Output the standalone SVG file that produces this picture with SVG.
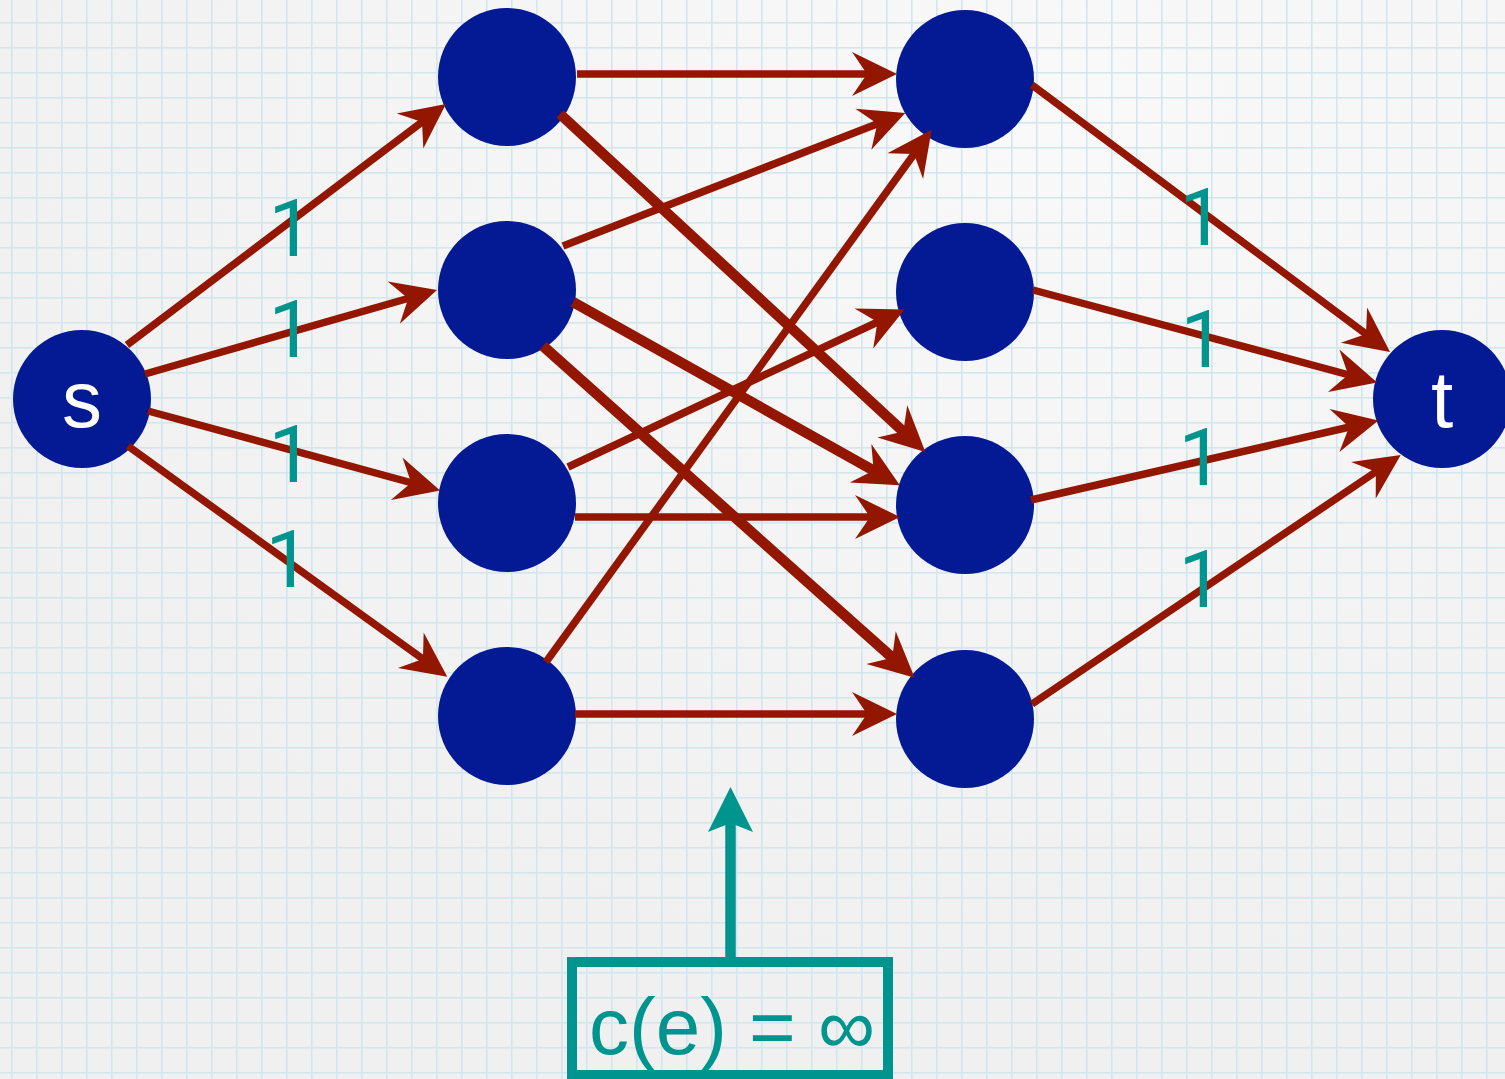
<svg xmlns="http://www.w3.org/2000/svg" width="1505" height="1079" viewBox="0 0 1505 1079">
<style>
.node{fill:#031a94}
.lbl{font-size:80px;fill:#ffffff;text-anchor:middle}
.w{fill:#00948f;font-size:80px;text-anchor:middle}
.e{stroke:#931600;stroke-width:7.5;fill:none;marker-end:url(#ah)}
.thick{stroke-width:10.5}
.gl{fill:#d2e6ee}
</style>
<defs>
<pattern id="grid" x="11" y="22" width="25" height="25" patternUnits="userSpaceOnUse">
<rect x="0" y="0" width="1.6" height="25" class="gl"/>
<rect x="0" y="0" width="25" height="1.6" class="gl"/>
</pattern>
<radialGradient id="glow" cx="0.7" cy="0.1" r="0.8">
<stop offset="0" stop-color="#f9f9f9"/>
<stop offset="1" stop-color="#f0f0f0"/>
</radialGradient>
<marker id="ah" markerUnits="userSpaceOnUse" viewBox="-55 -30 60 60" markerWidth="60" markerHeight="60" refX="-25" refY="0" orient="auto" overflow="visible">
<path d="M0,0 L-45,-22 L-30,0 L-45,22 Z" fill="#931600"/>
</marker>
</defs>
<rect width="1505" height="1079" fill="url(#glow)"/>
<rect width="1505" height="1079" fill="url(#grid)"/>
<g id="nodes" font-family="Liberation Sans, Arial, Helvetica, sans-serif">
<g id="s"><circle class="node" cx="82" cy="399" r="69"/><text class="lbl" x="82" y="427">s</text></g>
<g id="a1"><circle class="node" cx="507" cy="77" r="69"/></g>
<g id="a2"><circle class="node" cx="507" cy="290" r="69"/></g>
<g id="a3"><circle class="node" cx="507" cy="503" r="69"/></g>
<g id="a4"><circle class="node" cx="507" cy="716" r="69"/></g>
<g id="b1"><circle class="node" cx="965" cy="79" r="69"/></g>
<g id="b2"><circle class="node" cx="965" cy="292" r="69"/></g>
<g id="b3"><circle class="node" cx="965" cy="505" r="69"/></g>
<g id="b4"><circle class="node" cx="965" cy="719" r="69"/></g>
<g id="t"><circle class="node" cx="1442" cy="399" r="69"/><text class="lbl" x="1442" y="427">t</text></g>
</g>
<g id="connectors">
<line class="e" x1="127" y1="345" x2="426" y2="119"/>
<line class="e" x1="145" y1="374" x2="413" y2="297"/>
<line class="e" x1="148" y1="411" x2="416" y2="484"/>
<line class="e" x1="128" y1="446" x2="427" y2="662"/>
<line class="e" x1="577" y1="74" x2="872" y2="74"/>
<line class="e thick" x1="560" y1="114" x2="907" y2="435"/>
<line class="e" x1="563" y1="246" x2="882" y2="122"/>
<line class="e thick" x1="573" y1="302" x2="878" y2="473"/>
<line class="e thick" x1="543" y1="346" x2="896" y2="661"/>
<line class="e" x1="568" y1="467" x2="882" y2="320"/>
<line class="e" x1="575" y1="517" x2="875" y2="517"/>
<line class="e" x1="546" y1="662" x2="917" y2="150"/>
<line class="e" x1="575" y1="714" x2="872" y2="714"/>
<line class="e" x1="1032" y1="85" x2="1370" y2="337"/>
<line class="e" x1="1033" y1="290" x2="1353" y2="376"/>
<line class="e" x1="1031" y1="500" x2="1354" y2="426"/>
<line class="e" x1="1032" y1="704" x2="1380" y2="469"/>
</g>
<g id="weights" font-family="Roboto, Liberation Sans, Arial, sans-serif">
<text class="w" x="291" y="256">1</text>
<text class="w" x="291" y="357">1</text>
<text class="w" x="291" y="482">1</text>
<text class="w" x="288" y="587">1</text>
<text class="w" x="1202" y="245">1</text>
<text class="w" x="1203" y="367">1</text>
<text class="w" x="1201" y="485">1</text>
<text class="w" x="1201" y="607">1</text>
</g>
<g id="callout">
<line x1="730.5" y1="962" x2="730.5" y2="822" stroke="#00948f" stroke-width="10.5"/>
<path d="M730.5,787 L753,832 L730.5,823 L708,832 Z" fill="#00948f"/>
<rect x="572" y="962" width="316" height="113" fill="none" stroke="#00948f" stroke-width="10"/>
<text x="589" y="1054" fill="#00948f" font-family="Liberation Sans, Arial, Helvetica, sans-serif" font-size="80">c(e) = ∞</text>
</g>
</svg>
